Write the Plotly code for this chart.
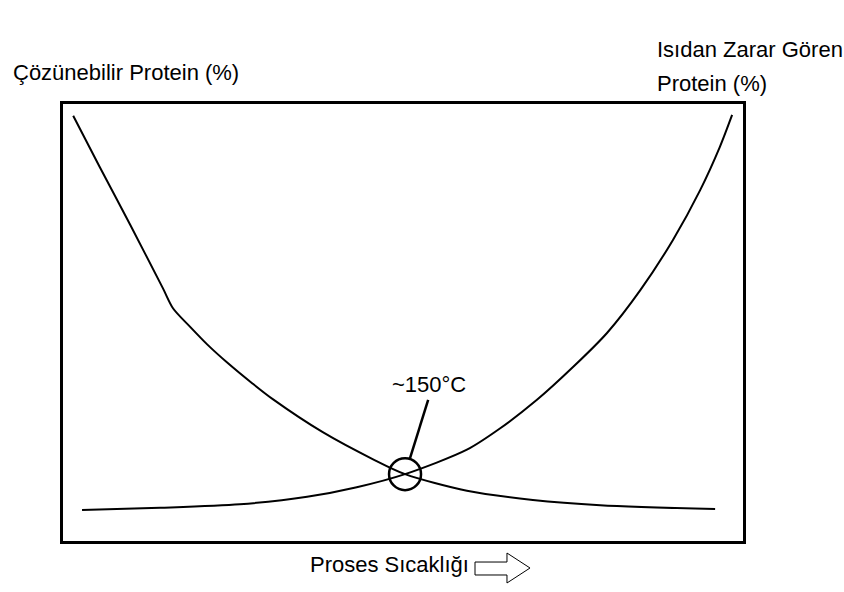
import plotly.graph_objects as go

# (arbitrary units: x = process temperature, y = %)
sicaklik_cozunebilir = [1.5, 5.4, 9.9, 14.7, 16.2, 18.7, 21.2, 24.1, 27.9, 30.9, 38.2,
                        45.6, 50.3, 59.4, 69.1, 79.0, 95.9]
cozunebilir = [97.3, 85.6, 72.3, 57.8, 53.2, 49.0, 45.0, 40.9, 36.0, 32.4, 24.9,
               18.7, 15.3, 11.5, 9.4, 8.2, 7.3]

sicaklik_hasar = [2.8, 14.3, 26.0, 35.9, 43.2, 50.3, 59.4, 64.3, 69.7,
                  75.0, 80.0, 84.9, 89.7, 93.7, 96.6, 98.4]
hasar = [7.1, 7.6, 8.4, 10.1, 12.3, 15.3, 20.9, 25.8, 32.3,
         39.8, 47.6, 57.4, 68.9, 80.3, 90.2, 97.5]

kesisim = (50.3, 15.3)
etiket_kesisim = "~150°C"

FONT = "Liberation Sans, Arial, sans-serif"

fig = go.Figure()

fig.add_trace(go.Scatter(
    x=sicaklik_cozunebilir, y=cozunebilir, mode="lines",
    line=dict(color="black", width=2, shape="spline", smoothing=0.8),
    name="Çözünebilir Protein (%)", hoverinfo="skip",
))
fig.add_trace(go.Scatter(
    x=sicaklik_hasar, y=hasar, mode="lines",
    line=dict(color="black", width=2, shape="spline", smoothing=0.8),
    name="Isıdan Zarar Gören Protein (%)", hoverinfo="skip",
))

# circle around the crossing point
fig.add_shape(
    type="circle", xref="x", yref="y",
    xsizemode="pixel", ysizemode="pixel",
    xanchor=kesisim[0], yanchor=kesisim[1],
    x0=-16, x1=16, y0=-16, y1=16,
    line=dict(color="black", width=2.5),
)
# pointer from the circle to the label
fig.add_shape(
    type="line", xref="x", yref="y",
    x0=51.0, y0=18.8, x1=53.7, y1=32.3,
    line=dict(color="black", width=2.5),
)

# hollow arrow next to the x label
fig.add_shape(
    type="path", xref="paper", yref="paper",
    path="M 0.6059 -0.0481 L 0.6529 -0.0481 L 0.6529 -0.0275 L 0.6868 -0.0618 "
         "L 0.6529 -0.0961 L 0.6529 -0.0778 L 0.6059 -0.0778 Z",
    line=dict(color="black", width=1),
    fillcolor="white",
)

annots = [
    dict(text=etiket_kesisim, x=53.8, y=35.9, xref="x", yref="y",
         xanchor="center", yanchor="middle"),
    dict(text="Çözünebilir Protein (%)", x=-0.0765, y=1.073, xref="paper", yref="paper",
         xanchor="left", yanchor="middle"),
    dict(text="Isıdan Zarar Gören", x=0.8705, y=1.1236, xref="paper", yref="paper",
         xanchor="left", yanchor="middle"),
    dict(text="Protein (%)", x=0.8705, y=1.048, xref="paper", yref="paper",
         xanchor="left", yanchor="middle"),
    dict(text="Proses Sıcaklığı", x=0.3602, y=-0.0549, xref="paper", yref="paper",
         xanchor="left", yanchor="middle"),
]
for a in annots:
    fig.add_annotation(showarrow=False, font=dict(family=FONT, size=22, color="black"), **a)

fig.update_xaxes(range=[0, 100], showgrid=False, zeroline=False, showticklabels=False,
                 ticks="", showline=True, linecolor="black", linewidth=3, mirror=True)
fig.update_yaxes(range=[0, 100], showgrid=False, zeroline=False, showticklabels=False,
                 ticks="", showline=True, linecolor="black", linewidth=3, mirror=True)

fig.update_layout(
    width=844, height=592,
    margin=dict(l=63, r=101, t=104, b=51),
    plot_bgcolor="white",
    paper_bgcolor="white",
    showlegend=False,
    font=dict(family=FONT, size=22, color="black"),
)

# drop the browser's default body margin so the figure sits at the window's corner
fig.write_html("out.html", config={"displayModeBar": False},
               post_script="document.body.style.margin='0';")
